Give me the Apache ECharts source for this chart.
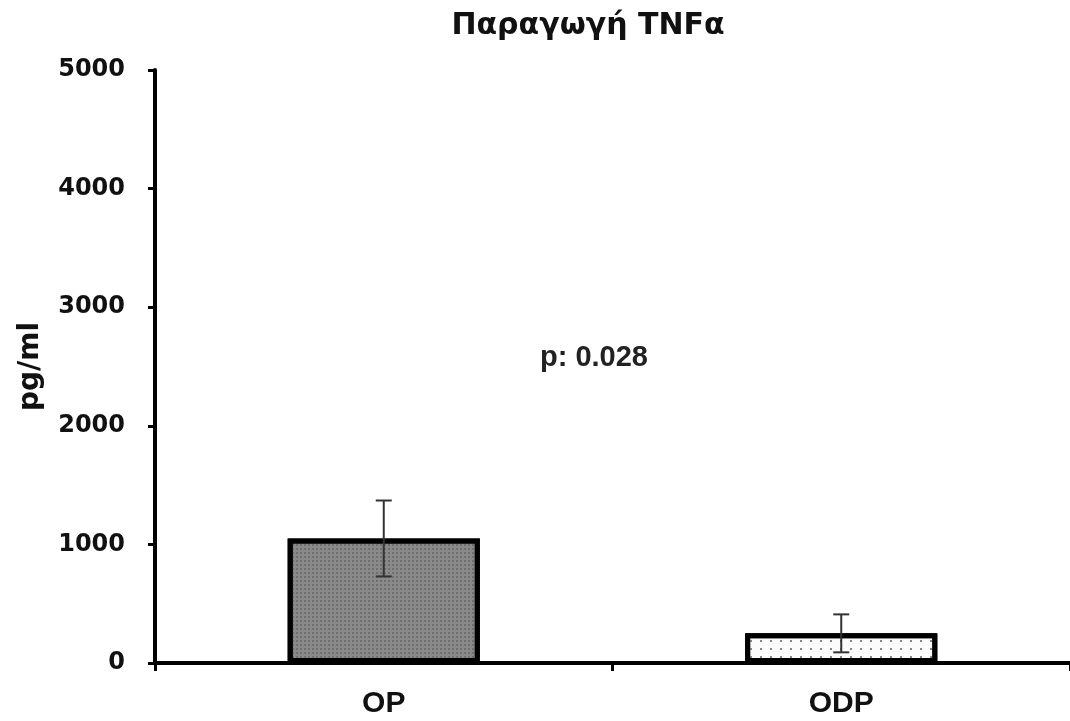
<!DOCTYPE html>
<html>
<head>
<meta charset="utf-8">
<script src="https://cdn.jsdelivr.net/npm/echarts@6/dist/echarts.min.js"></script>
<style>html,body{margin:0;padding:0;background:#fff}#c{width:1070px;height:721px}</style>
</head>
<body>
<div id="c"></div>
<script>
const categories = ['OP', 'ODP'];
const means = [1050, 250];
const errors = [320, 160];
const yTicks = [0, 1000, 2000, 3000, 4000, 5000];
const titleText = 'Παραγωγή TNFα';
const yName = 'pg/ml';
const pText = 'p: 0.028';

const chart = echarts.init(document.getElementById('c'), null, {renderer: 'canvas'});
const errData = means.map((m, i) => [i, m - errors[i], m + errors[i]]);
const F = '"Liberation Sans", Arial, sans-serif';
const D = '"DejaVu Sans", sans-serif';

chart.setOption({
  animation: false,
  backgroundColor: '#fff',
  title: {
    text: titleText, left: 583, top: 6, textAlign: 'center',
    textStyle: {fontFamily: D, fontWeight: 'bold', fontSize: 30, color: '#111'}
  },
  graphic: [{
    type: 'text', left: 540, top: 343,
    style: {text: pText, fontFamily: F, fontWeight: 'bold', fontSize: 29, fill: '#222'}
  }],
  grid: {left: 155, right: 0, top: 70, bottom: 58, containLabel: false},
  xAxis: {
    type: 'category', data: categories,
    axisLine: {lineStyle: {color: '#000', width: 4}},
    axisTick: {show: true, length: 8, lineStyle: {color: '#000', width: 3}},
    axisLabel: {fontFamily: F, fontWeight: 'bold', fontSize: 30, color: '#111', margin: 26}
  },
  yAxis: {
    type: 'value', min: 0, max: 5000, interval: 1000,
    name: yName, nameLocation: 'middle', nameGap: 110, nameRotate: 90,
    nameTextStyle: {fontFamily: D, fontWeight: 'bold', fontSize: 28, color: '#111'},
    axisLine: {show: true, lineStyle: {color: '#000', width: 4}},
    axisTick: {show: true, length: 7, lineStyle: {color: '#000', width: 3}},
    axisLabel: {fontFamily: D, fontWeight: 'bold', fontSize: 24, color: '#111', margin: 30,
      formatter: v => yTicks.includes(v) ? String(v) : ''},
    splitLine: {show: false}
  },
  series: [{
    type: 'bar', barWidth: '42%',
    data: [
      {value: means[0], itemStyle: {color: '#8a8a8a', borderColor: '#000', borderWidth: 5,
        decal: {symbol: 'rect', symbolSize: 1, dashArrayX: [2, 2], dashArrayY: [2, 2], color: 'rgba(60,60,60,0.35)'}}},
      {value: means[1], itemStyle: {color: '#fbfbfb', borderColor: '#000', borderWidth: 5,
        decal: {symbol: 'rect', symbolSize: 1, dashArrayX: [2, 8], dashArrayY: [2, 6], color: '#888'}}}
    ],
    z: 2
  }, {
    type: 'custom', z: 5,
    data: errData,
    encode: {x: 0, y: [1, 2]},
    renderItem: function (params, api) {
      const x = api.value(0);
      const lo = api.coord([x, api.value(1)]);
      const hi = api.coord([x, api.value(2)]);
      const w = 8;
      const st = {stroke: '#333', lineWidth: 2};
      return {type: 'group', children: [
        {type: 'line', shape: {x1: hi[0], y1: hi[1], x2: lo[0], y2: lo[1]}, style: st},
        {type: 'line', shape: {x1: hi[0] - w, y1: hi[1], x2: hi[0] + w, y2: hi[1]}, style: st},
        {type: 'line', shape: {x1: lo[0] - w, y1: lo[1], x2: lo[0] + w, y2: lo[1]}, style: st}
      ]};
    }
  }]
});
</script>
</body>
</html>
